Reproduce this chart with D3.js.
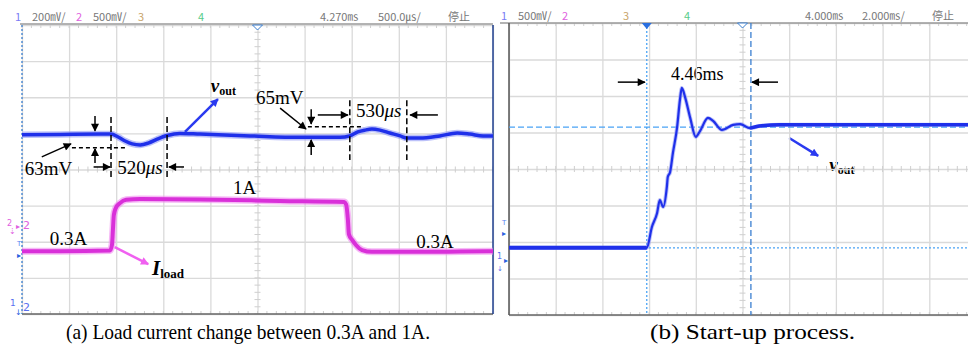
<!DOCTYPE html>
<html><head><meta charset="utf-8">
<script src="https://cdn.jsdelivr.net/npm/d3@7"></script>
<style>body{margin:0;background:#fff}svg{display:block}</style>
</head><body><svg id="c" width="968" height="349"></svg>
<script>
// ---------- data (screen divisions: x 0..10, y -4..4) ----------
// (a) load step: output voltage (ch1) and load current (ch2)
const loadVoutX = [0,0.81,1.66,1.89,2.04,2.19,2.34,2.51,2.68,2.87,3.08,3.35,3.78,4.84,5.90,6.75,6.96,7.13,7.28,7.43,7.60,7.81,8.03,8.17,8.45,8.87,9.24,9.51,9.79,10];
const loadVoutY = [0.96,0.97,0.98,0.98,0.90,0.79,0.71,0.68,0.73,0.84,0.94,1.00,0.98,0.93,0.89,0.89,0.93,1.04,1.09,1.12,1.09,1.01,0.93,0.87,0.87,0.93,1.01,0.98,0.93,0.93];
const loadCurX  = [0,0.81,1.87,1.91,1.93,1.95,1.99,2.08,2.21,2.51,3.78,5.48,6.84,6.88,6.92,6.94,7.01,7.09,7.22,7.43,8.45,9.30,10];
const loadCurY  = [-2.26,-2.26,-2.24,-2.09,-1.68,-1.26,-1.07,-0.93,-0.84,-0.82,-0.83,-0.87,-0.90,-0.96,-1.40,-1.79,-1.95,-2.09,-2.23,-2.28,-2.28,-2.27,-2.26];
// (b) start-up: output voltage
const startX = [0,1.95,2.95,3.06,3.17,3.23,3.30,3.38,3.40,3.45,3.51,3.60,3.66,3.70,3.77,3.88,4.00,4.09,4.26,4.37,4.56,4.80,4.95,5.16,5.37,5.80,7.30,9.01,10];
const startY = [-2.16,-2.16,-2.16,-1.59,-1.21,-0.85,-1.04,-0.49,-0.22,-0.08,0.44,1.15,1.89,2.22,1.97,1.40,0.88,1.04,1.40,1.32,1.07,1.21,1.23,1.12,1.18,1.21,1.21,1.21,1.21];
// status bars
const statusA = [["1","#7a7af5"],["200㎷/","#777"],["2","#e060e0"],["500㎷/","#777"],["3","#c9a56a"],["4","#55cc88"],["4.270㎳","#777"],["500.0㎲/","#777"],["停止","#777"]];
const statusAX = [15,32,76,93,138,198,320,378,448];
const statusB = [["1","#7a7af5"],["500㎷/","#777"],["2","#e060e0"],["3","#c9a56a"],["4","#55cc88"],["4.000㎳","#777"],["2.000㎳/","#777"],["停止","#777"]];
const statusBX = [501,518,562,623,684,805,862,932];
const captions = ["(a) Load current change between 0.3A and 1A.","(b) Start-up process."];
const cursorsBH = [1.15,-2.16];
const cursorsBV = [2.95,5.18];

// ---------- setup ----------
const svg = d3.select("#c");
svg.append("rect").attr("width",968).attr("height",349).attr("fill","#fff");
const defs = svg.append("defs");
function mk(id,color){
  defs.append("marker").attr("id",id).attr("viewBox","0 0 10 10").attr("refX",9).attr("refY",5)
   .attr("markerUnits","userSpaceOnUse").attr("markerWidth",9).attr("markerHeight",8).attr("orient","auto")
   .append("path").attr("d","M0,0L10,5L0,10z").attr("fill",color);
}
mk("ahk","#000"); mk("ahb","#2a3af0"); mk("ahm","#f060f0");
const serif = "'Liberation Serif','Times New Roman',serif";

const xA = d3.scaleLinear().domain([0,10]).range([22,493]);
const yA = d3.scaleLinear().domain([-4,4]).range([314,25]);
const xB = d3.scaleLinear().domain([0,10]).range([509,976]);
const yB = d3.scaleLinear().domain([-4,4]).range([315,23]);

function grid(x,y){
  const g = svg.append("g");
  const h = y(-4)-y(4), w = x(10)-x(0);
  g.append("g").attr("transform",`translate(0,${y(-4)})`)
    .call(d3.axisBottom(x).ticks(10).tickSize(-h).tickFormat(""))
    .call(s=>{s.select(".domain").remove();s.selectAll("line").attr("stroke","#dadada").attr("stroke-width",1.3);});
  g.append("g").attr("transform",`translate(${x(0)},0)`)
    .call(d3.axisLeft(y).ticks(8).tickSize(-w).tickFormat(""))
    .call(s=>{s.select(".domain").remove();s.selectAll("line").attr("stroke","#dadada").attr("stroke-width",1.3);});
  const mx = d3.range(0,10.01,0.2), my = d3.range(-4,4.01,0.2);
  g.selectAll(".mtx").data(mx).join("line").attr("x1",d=>x(d)).attr("x2",d=>x(d))
    .attr("y1",y(0)-3).attr("y2",y(0)+3).attr("stroke","#cfcfcf");
  g.selectAll(".mty").data(my).join("line").attr("y1",d=>y(d)).attr("y2",d=>y(d))
    .attr("x1",x(5)-3).attr("x2",x(5)+3).attr("stroke","#cfcfcf");
  g.selectAll(".mtt").data(mx).join("line").attr("x1",d=>x(d)).attr("x2",d=>x(d))
    .attr("y1",y(4)).attr("y2",y(4)+3).attr("stroke","#cfcfcf");
  g.selectAll(".mtb").data(mx).join("line").attr("x1",d=>x(d)).attr("x2",d=>x(d))
    .attr("y1",y(-4)).attr("y2",y(-4)-3).attr("stroke","#cfcfcf");
  return g;
}

// ---------- panel (a) ----------
grid(xA,yA);
svg.append("line").attr("x1",20).attr("x2",xA(10)).attr("y1",24).attr("y2",24).attr("stroke","#9a9a9a").attr("stroke-width",1.5);
svg.append("line").attr("x1",xA(0)).attr("x2",xA(10)).attr("y1",yA(-4)).attr("y2",yA(-4)).attr("stroke","#666").attr("stroke-width",1.5);
svg.append("line").attr("x1",xA(0)).attr("x2",xA(0)).attr("y1",yA(4)).attr("y2",yA(-4)).attr("stroke","#3a7fd0").attr("stroke-width",1.3).attr("stroke-dasharray","2,2");
svg.append("line").attr("x1",xA(10)).attr("x2",xA(10)).attr("y1",yA(4)).attr("y2",yA(-4)).attr("stroke","#1f3f8f").attr("stroke-width",1.5);
svg.append("path").attr("d",`M${xA(5)-5},${yA(4)}L${xA(5)+5},${yA(4)}L${xA(5)},${yA(4)+5}z`).attr("fill","#fff").attr("stroke","#3a7fd0");

const lineA = d3.line().x(d=>xA(d[0])).y(d=>yA(d[1])).curve(d3.curveMonotoneX);
const vA = d3.zip(loadVoutX,loadVoutY), iA = d3.zip(loadCurX,loadCurY);
svg.append("path").attr("d",lineA(vA)).attr("fill","none").attr("stroke","#8f98f5").attr("stroke-width",6.5).attr("opacity",0.6);
svg.append("path").attr("d",lineA(vA)).attr("fill","none").attr("stroke","#1f30ea").attr("stroke-width",3.5);
svg.append("path").attr("d",lineA(iA)).attr("fill","none").attr("stroke","#f08af0").attr("stroke-width",7).attr("opacity",0.6);
svg.append("path").attr("d",lineA(iA)).attr("fill","none").attr("stroke","#d930d9").attr("stroke-width",4);

// channel markers (a)
const cm = svg.append("g").attr("font-family","'DejaVu Sans',sans-serif");
cm.append("text").attr("x",7).attr("y",226).attr("font-size",8).attr("fill","#e060e0").text("2");
cm.append("text").attr("x",9).attr("y",234).attr("font-size",8).attr("fill","#e060e0").text("⇣");
cm.append("text").attr("x",16).attr("y",229).attr("font-size",8).attr("fill","#e060e0").text("▸");
cm.append("text").attr("x",23).attr("y",229).attr("font-size",11).attr("fill","#e060e0").text("2");
cm.append("text").attr("x",17).attr("y",246).attr("font-size",7).attr("fill","#5a7ff0").text("T");
cm.append("text").attr("x",17).attr("y",258).attr("font-size",8).attr("fill","#2a5fe0").text("▸");
cm.append("text").attr("x",10).attr("y",306).attr("font-size",9).attr("fill","#5a6ff0").text("1");
cm.append("text").attr("x",15).attr("y",315).attr("font-size",8).attr("fill","#2a5fe0").text("↓");
cm.append("text").attr("x",23).attr("y",311).attr("font-size",11).attr("fill","#5a6ff0").text("2");

// annotations
const ann = svg.append("g");
function arr(x,y,a,b,c,d,m,col,w){ann.append("line").attr("x1",x(a)).attr("y1",y(b)).attr("x2",x(c)).attr("y2",y(d)).attr("stroke",col||"#000").attr("stroke-width",w||1.5).attr("marker-end",`url(#${m||"ahk"})`);}
function dash(x,y,a,b,c,d,da){ann.append("line").attr("x1",x(a)).attr("y1",y(b)).attr("x2",x(c)).attr("y2",y(d)).attr("stroke","#000").attr("stroke-width",1.5).attr("stroke-dasharray",da||"4,3");}
function txt(x,y,a,b,parts,size){
  const t=ann.append("text").attr("x",x(a)).attr("y",y(b)).attr("font-family",serif).attr("font-size",size||19).attr("fill","#000");
  parts.forEach(p=>{const s=t.append("tspan").text(p.t); if(p.i)s.attr("font-style","italic"); if(p.b)s.attr("font-weight","bold"); if(p.s)s.attr("font-size",p.s); if(p.dy!==undefined)s.attr("dy",p.dy);});
}
arr(xA,yA,1.55,1.48,1.55,1.07);
arr(xA,yA,1.55,0.18,1.55,0.57);
dash(xA,yA,1.06,0.60,2.23,0.60);
dash(xA,yA,1.89,1.45,1.89,-0.26,"6,3");
dash(xA,yA,3.08,1.45,3.08,-0.26,"6,3");
arr(xA,yA,1.52,0.07,1.87,0.07);
arr(xA,yA,3.44,0.07,3.12,0.07);
arr(xA,yA,0.42,0.35,1.04,0.71);
txt(xA,yA,0.06,-0.15,[{t:"63mV"}]);
txt(xA,yA,2.02,-0.12,[{t:"520"},{t:"μs",i:1}]);
arr(xA,yA,3.46,1.04,4.16,1.95,"ahb","#2a3af0",2.5);
txt(xA,yA,4.01,2.15,[{t:"v",i:1,b:1},{t:"out",b:1,s:12,dy:3}]);
txt(xA,yA,4.97,1.81,[{t:"65mV"}]);
arr(xA,yA,5.48,1.70,6.03,1.12);
arr(xA,yA,6.14,1.67,6.14,1.26);
dash(xA,yA,6.07,1.18,7.22,1.18);
arr(xA,yA,6.14,0.40,6.14,0.82);
dash(xA,yA,6.96,1.92,6.96,0.26,"6,3");
dash(xA,yA,8.17,1.92,8.17,0.26,"6,3");
arr(xA,yA,6.28,1.51,6.92,1.51);
arr(xA,yA,8.83,1.51,8.24,1.51);
txt(xA,yA,7.09,1.45,[{t:"530"},{t:"μs",i:1}]);
txt(xA,yA,4.48,-0.68,[{t:"1A"}]);
txt(xA,yA,0.59,-2.09,[{t:"0.3A"}]);
txt(xA,yA,8.37,-2.17,[{t:"0.3A"}]);
arr(xA,yA,1.97,-2.15,2.68,-2.62,"ahm","#f060f0",2.5);
txt(xA,yA,2.76,-2.92,[{t:"I",i:1,b:1,s:21},{t:"load",b:1,s:13,dy:3}]);

// ---------- panel (b) ----------
grid(xB,yB);
svg.append("line").attr("x1",500).attr("x2",968).attr("y1",23).attr("y2",23).attr("stroke","#9a9a9a").attr("stroke-width",1.5);
svg.append("line").attr("x1",xB(0)).attr("x2",968).attr("y1",yB(-4)).attr("y2",yB(-4)).attr("stroke","#666").attr("stroke-width",1.5);
svg.append("line").attr("x1",xB(0)).attr("x2",xB(0)).attr("y1",yB(4)).attr("y2",yB(-4)).attr("stroke","#555").attr("stroke-width",1.5);
svg.selectAll(".cbh").data(cursorsBH).join("line").attr("x1",xB(0)).attr("x2",968).attr("y1",d=>yB(d)).attr("y2",d=>yB(d))
  .attr("stroke","#4aa3f5").attr("stroke-width",1.3).attr("stroke-dasharray",(d,i)=>i?"2,2":"6,3");
svg.selectAll(".cbv").data(cursorsBV).join("line").attr("x1",d=>xB(d)).attr("x2",d=>xB(d)).attr("y1",yB(4)).attr("y2",yB(-4))
  .attr("stroke",(d,i)=>i?"#3a7fd0":"#4aa3f5").attr("stroke-width",1.3).attr("stroke-dasharray",(d,i)=>i?"6,3":"2,2");
svg.append("path").attr("d",`M${xB(2.95)-5},${yB(4)}L${xB(2.95)+5},${yB(4)}L${xB(2.95)},${yB(4)+6}z`).attr("fill","#2a6fe0");
svg.append("path").attr("d",`M${xB(5)-5},${yB(4)}L${xB(5)+5},${yB(4)}L${xB(5)},${yB(4)+5}z`).attr("fill","#fff").attr("stroke","#3a7fd0");

const lineB = d3.line().x(d=>xB(d[0])).y(d=>yB(d[1])).curve(d3.curveMonotoneX);
const sB = d3.zip(startX,startY);
svg.append("path").attr("d",lineB(sB)).attr("fill","none").attr("stroke","#8f98f5").attr("stroke-width",4).attr("opacity",0.6);
svg.append("path").attr("d",lineB(sB)).attr("fill","none").attr("stroke","#1f30ea").attr("stroke-width",2.2);
svg.append("path").attr("d",lineB(sB.slice(0,3))).attr("fill","none").attr("stroke","#1f30ea").attr("stroke-width",4);
svg.append("path").attr("d",lineB(sB.slice(23))).attr("fill","none").attr("stroke","#1f30ea").attr("stroke-width",3.5);

cm.append("text").attr("x",502).attr("y",225).attr("font-size",7).attr("fill","#5a7ff0").text("T");
cm.append("text").attr("x",502).attr("y",236).attr("font-size",8).attr("fill","#2a5fe0").text("▸");
cm.append("text").attr("x",497).attr("y",259).attr("font-size",8).attr("fill","#5a6ff0").text("1");
cm.append("text").attr("x",497).attr("y",271).attr("font-size",7).attr("fill","#5a6ff0").text("↓");
cm.append("text").attr("x",504).attr("y",263).attr("font-size",8).attr("fill","#2a5fe0").text("▸");

txt(xB,yB,3.47,2.44,[{t:"4.46ms"}],18);
arr(xB,yB,2.33,2.38,2.91,2.38);
arr(xB,yB,5.76,2.38,5.20,2.38);
arr(xB,yB,6.0,0.85,6.62,0.36,"ahb","#2a3af0",2.5);
txt(xB,yB,6.86,-0.06,[{t:"v",i:1,b:1},{t:"out",b:1,s:12,dy:3}]);

// ---------- status bars ----------
const sb = svg.append("g").attr("font-family","'Noto Sans CJK SC','DejaVu Sans',sans-serif").attr("font-size",11);
sb.selectAll(".sa").data(statusA).join("text").attr("x",(d,i)=>statusAX[i]).attr("y",21).attr("fill",d=>d[1]).text(d=>d[0]);
sb.selectAll(".sbb").data(statusB).join("text").attr("x",(d,i)=>statusBX[i]).attr("y",20).attr("fill",d=>d[1]).text(d=>d[0]);

// ---------- captions ----------
const capX = [66,650], capW = [364,205];
svg.selectAll(".cap").data(captions).join("text").attr("x",(d,i)=>capX[i]).attr("y",339)
  .attr("font-family",serif).attr("font-size",21).attr("fill","#000")
  .attr("textLength",(d,i)=>capW[i]).attr("lengthAdjust","spacingAndGlyphs").text(d=>d);
</script></body></html>
